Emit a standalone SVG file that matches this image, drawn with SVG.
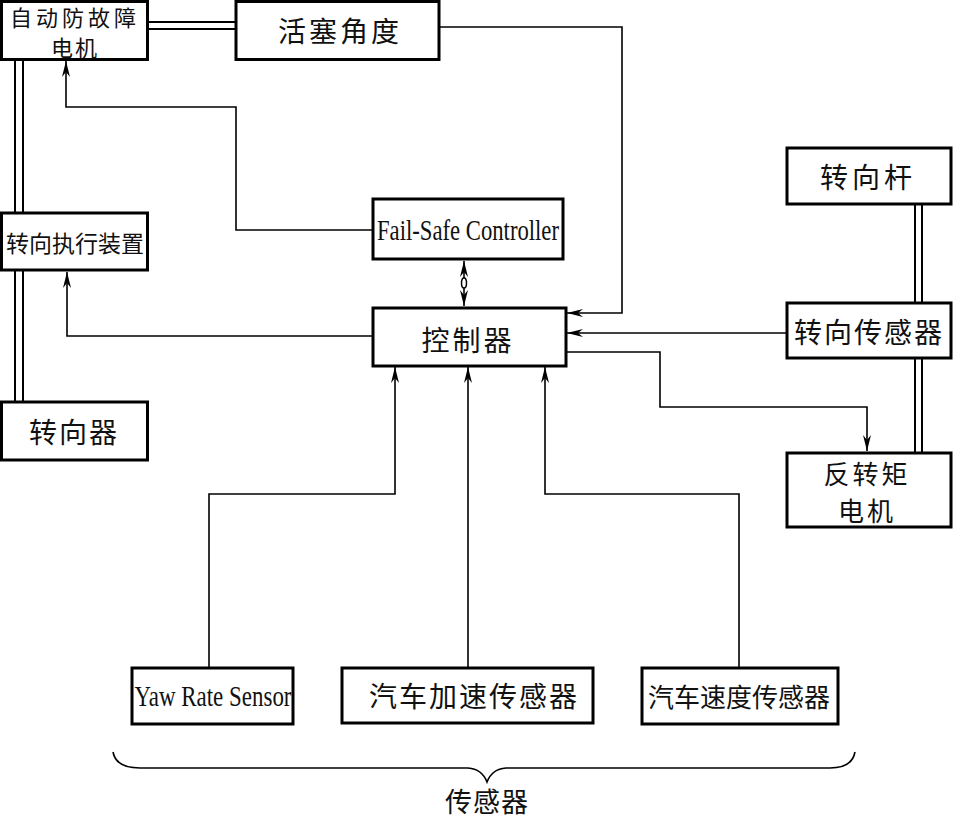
<svg xmlns="http://www.w3.org/2000/svg" width="953" height="820" viewBox="0 0 953 820">
<style>
.box{fill:#fff;stroke:#000;stroke-width:3}
.cn{font-family:"Noto Sans CJK SC","Noto Sans",sans-serif;fill:#111;text-anchor:middle;dominant-baseline:central}
.en{font-family:"Liberation Serif",serif;fill:#111;text-anchor:middle}
.ln{fill:none;stroke:#000;stroke-width:1.6}
.dl{fill:none;stroke:#000;stroke-width:2}
</style>
<defs>
<marker id="ah" viewBox="0 0 16 8" refX="16" refY="4" markerWidth="16" markerHeight="8" orient="auto-start-reverse" markerUnits="userSpaceOnUse">
<path d="M0,0 L16,4 L0,8 L5,4 z" fill="#000"/>
</marker>
</defs>
<rect width="953" height="820" fill="#fff"/>
<g id="connectors">
<path class="dl" d="M148,22 H236 M148,29 H236"/>
<path class="dl" d="M15,60 V212 M23,60 V212 M15,271 V401 M23,271 V401"/>
<path class="dl" d="M915,204 V303 M922,204 V303 M915,358 V453 M922,358 V453"/>
<path class="ln" d="M440,27 H622 V313 H567" marker-end="url(#ah)"/>
<path class="ln" d="M786,333 H567" marker-end="url(#ah)"/>
<path class="ln" d="M566,352 H660 V407 H867 V451" marker-end="url(#ah)"/>
<path class="ln" d="M372,230 H236 V107 H66 V61" marker-end="url(#ah)"/>
<path class="ln" d="M372,336 H67 V272" marker-end="url(#ah)"/>
<path class="ln" d="M464,261 V306" marker-start="url(#ah)" marker-end="url(#ah)"/>
<ellipse cx="464" cy="283" rx="2.5" ry="5" fill="#fff" stroke="#000" stroke-width="1.5"/>
<path class="ln" d="M209,668 V494 H395 V367" marker-end="url(#ah)"/>
<path class="ln" d="M468,668 V367" marker-end="url(#ah)"/>
<path class="ln" d="M739,668 V494 H545 V367" marker-end="url(#ah)"/>
</g>
<g id="n_motor">
<rect class="box" x="1.5" y="1.5" width="146" height="58"/>
<text class="cn" font-size="22"><tspan x="75" y="16" letter-spacing="4">自动防故障</tspan><tspan x="75" y="46" letter-spacing="2">电机</tspan></text>
</g>
<g id="n_piston">
<rect class="box" x="236" y="1.5" width="203" height="58"/>
<text class="cn" x="340" y="30" font-size="28" letter-spacing="3">活塞角度</text>
</g>
<g id="n_actuator">
<rect class="box" x="1.5" y="213" width="146" height="57"/>
<text class="cn" x="75" y="242" font-size="23">转向执行装置</text>
</g>
<g id="n_steer">
<rect class="box" x="1.5" y="402" width="146" height="58"/>
<text class="cn" x="74" y="431" font-size="28" letter-spacing="2">转向器</text>
</g>
<g id="n_failsafe">
<rect class="box" x="373" y="199" width="190" height="60"/>
<text class="en" x="468" y="240" font-size="29" textLength="182" lengthAdjust="spacingAndGlyphs">Fail-Safe Controller</text>
</g>
<g id="n_ctrl">
<rect class="box" x="373" y="308" width="193" height="58"/>
<text class="cn" x="468" y="339" font-size="28" letter-spacing="3">控制器</text>
</g>
<g id="n_column">
<rect class="box" x="787" y="148" width="164" height="56"/>
<text class="cn" x="868" y="176" font-size="28" letter-spacing="4">转向杆</text>
</g>
<g id="n_ssensor">
<rect class="box" x="787" y="303" width="164" height="55"/>
<text class="cn" x="869" y="331" font-size="28" letter-spacing="2">转向传感器</text>
</g>
<g id="n_torque">
<rect class="box" x="787" y="453" width="164" height="74"/>
<text class="cn" font-size="26"><tspan x="867" y="472" letter-spacing="3">反转矩</tspan><tspan x="867" y="509" letter-spacing="3">电机</tspan></text>
</g>
<g id="n_yaw">
<rect class="box" x="132" y="668" width="161" height="56"/>
<text class="en" x="213" y="706" font-size="29" textLength="157" lengthAdjust="spacingAndGlyphs">Yaw Rate Sensor</text>
</g>
<g id="n_accel">
<rect class="box" x="342" y="668" width="251" height="55"/>
<text class="cn" x="474" y="695" font-size="28" letter-spacing="2">汽车加速传感器</text>
</g>
<g id="n_speed">
<rect class="box" x="642" y="668" width="196" height="56"/>
<text class="cn" x="739" y="695" font-size="26">汽车速度传感器</text>
</g>
<g id="n_brace">
<path class="ln" d="M113,752 Q116,768 140,768 H468 Q482,769 487,782 Q492,769 506,768 H830 Q852,768 855,752"/>
<text class="cn" x="487" y="800" font-size="27" letter-spacing="1">传感器</text>
</g>
</svg>
